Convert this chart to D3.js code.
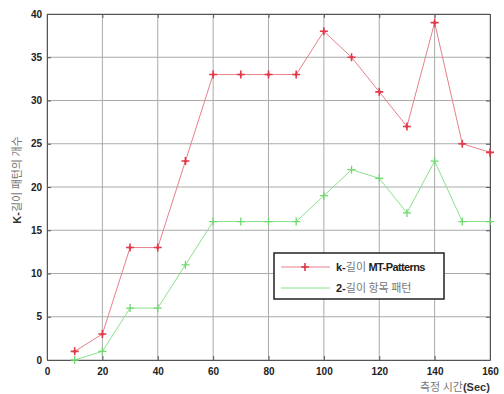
<!DOCTYPE html>
<html>
<head>
<meta charset="utf-8">
<script src="https://cdn.jsdelivr.net/npm/d3@7"></script>
<style>
  body { margin: 0; background: #fff; }
  svg { display: block; font-family: "Liberation Sans", Arial, sans-serif; }
  .tick text { font-size: 10px; font-weight: bold; fill: #222; }
  .grid line { stroke: #aaa; stroke-width: 1; }
</style>
</head>
<body>
<svg id="chart" width="504" height="394"></svg>
<script>
// measured time (sec)
var times = [10, 20, 30, 40, 50, 60, 70, 80, 90, 100, 110, 120, 130, 140, 150, 160];
var kPatterns = [1, 3, 13, 13, 23, 33, 33, 33, 33, 38, 35, 31, 27, 39, 25, 24];
var itemPatterns = [0, 1, 6, 6, 11, 16, 16, 16, 16, 19, 22, 21, 17, 23, 16, 16];
var xTicks = [0, 20, 40, 60, 80, 100, 120, 140, 160];
var yTicks = [0, 5, 10, 15, 20, 25, 30, 35, 40];

var margin = {left: 47, top: 14, right: 14, bottom: 34};
var width = 504 - margin.left - margin.right;
var height = 394 - margin.top - margin.bottom;

var svg = d3.select("#chart");
var g = svg.append("g")
	.attr("transform", "translate(" + margin.left + "," + margin.top + ")");

var x = d3.scaleLinear().domain([0, 160]).range([0, width]);
var y = d3.scaleLinear().domain([0, 40]).range([height, 0]);

// grid
g.append("g")
	.attr("class", "grid")
	.selectAll("line.gx")
	.data(xTicks)
	.enter().append("line")
	.attr("x1", function(d) { return x(d); })
	.attr("x2", function(d) { return x(d); })
	.attr("y1", 0)
	.attr("y2", height);

g.append("g")
	.attr("class", "grid")
	.selectAll("line.gy")
	.data(yTicks)
	.enter().append("line")
	.attr("x1", 0)
	.attr("x2", width)
	.attr("y1", function(d) { return y(d); })
	.attr("y2", function(d) { return y(d); });

// axes
var xAxis = g.append("g")
	.attr("transform", "translate(0," + height + ")")
	.call(d3.axisBottom(x).tickValues(xTicks).tickSizeInner(-4).tickSizeOuter(0).tickPadding(8));
var yAxis = g.append("g")
	.call(d3.axisLeft(y).tickValues(yTicks).tickSizeInner(-4).tickSizeOuter(0).tickPadding(5));
g.append("g")
	.call(d3.axisTop(x).tickValues(xTicks).tickSizeInner(-4).tickSizeOuter(0).tickFormat(""));
g.append("g")
	.attr("transform", "translate(" + width + ",0)")
	.call(d3.axisRight(y).tickValues(yTicks).tickSizeInner(-4).tickSizeOuter(0).tickFormat(""));

g.selectAll(".domain").attr("stroke", "#555");
g.selectAll(".tick line").attr("stroke", "#555");

// series
var line = d3.line()
	.x(function(d) { return x(d[0]); })
	.y(function(d) { return y(d[1]); });

var series = [
	{name: "k", values: kPatterns, color: "#e8808c", mark: "#e23a4a"},
	{name: "item", values: itemPatterns, color: "#8ce08c", mark: "#6fd86f"}
];

series.forEach(function(s) {
	var pts = times.map(function(t, i) { return [t, s.values[i]]; });
	g.append("path")
		.datum(pts)
		.attr("fill", "none")
		.attr("stroke", s.color)
		.attr("stroke-width", 1)
		.attr("d", line);
	g.selectAll(null)
		.data(pts)
		.enter().append("path")
		.attr("transform", function(d) { return "translate(" + x(d[0]) + "," + y(d[1]) + ")"; })
		.attr("d", "M-4,0H4M0,-4V4")
		.attr("stroke", s.mark)
		.attr("stroke-width", s.name == "k" ? 1.6 : 1.3);
	if (s.name == "k") {
		g.selectAll(null)
			.data(pts)
			.enter().append("circle")
			.attr("cx", function(d) { return x(d[0]); })
			.attr("cy", function(d) { return y(d[1]); })
			.attr("r", 1.6)
			.attr("fill", s.mark);
	}
});

// legend
var legend = svg.append("g").attr("transform", "translate(274,253)");
legend.append("rect")
	.attr("width", 170)
	.attr("height", 46)
	.attr("fill", "#fff")
	.attr("stroke", "#222")
	.attr("stroke-width", 1.5);

legend.append("line").attr("x1", 7).attr("x2", 56).attr("y1", 14).attr("y2", 14)
	.attr("stroke", "#e8808c");
legend.append("path").attr("d", "M27,14H35M31,10V18").attr("stroke", "#e23a4a").attr("stroke-width", 1.6);
legend.append("circle").attr("cx", 31).attr("cy", 14).attr("r", 1.6).attr("fill", "#e23a4a");
legend.append("line").attr("x1", 7).attr("x2", 56).attr("y1", 35).attr("y2", 35)
	.attr("stroke", "#8ce08c");

var t1 = legend.append("text").attr("x", 62).attr("y", 18).attr("font-size", 11);
t1.append("tspan").attr("font-weight", "bold").attr("fill", "#222").text("k-");
t1.append("tspan").attr("fill", "#777").attr("font-family", "Noto Sans CJK KR").text("길이 ");
t1.append("tspan").attr("font-weight", "bold").attr("fill", "#222").attr("letter-spacing", -0.6).text("MT-Patterns");

var t2 = legend.append("text").attr("x", 62).attr("y", 39).attr("font-size", 11);
t2.append("tspan").attr("font-weight", "bold").attr("fill", "#222").text("2-");
t2.append("tspan").attr("fill", "#777").attr("font-family", "Noto Sans CJK KR").text("길이 항목 패턴");

// axis labels
var yl = svg.append("text")
	.attr("transform", "translate(21,180) rotate(-90)")
	.attr("text-anchor", "middle")
	.attr("font-size", 11);
yl.append("tspan").attr("font-weight", "bold").attr("fill", "#333").text("K-");
yl.append("tspan").attr("fill", "#777").attr("font-family", "Noto Sans CJK KR").text("길이 패턴의 개수");

var xl = svg.append("text")
	.attr("x", 420)
	.attr("y", 391)
	.attr("font-size", 11);
xl.append("tspan").attr("fill", "#777").attr("font-family", "Noto Sans CJK KR").text("측정 시간");
xl.append("tspan").attr("font-weight", "bold").attr("fill", "#333").text("(Sec)");
</script>
</body>
</html>
